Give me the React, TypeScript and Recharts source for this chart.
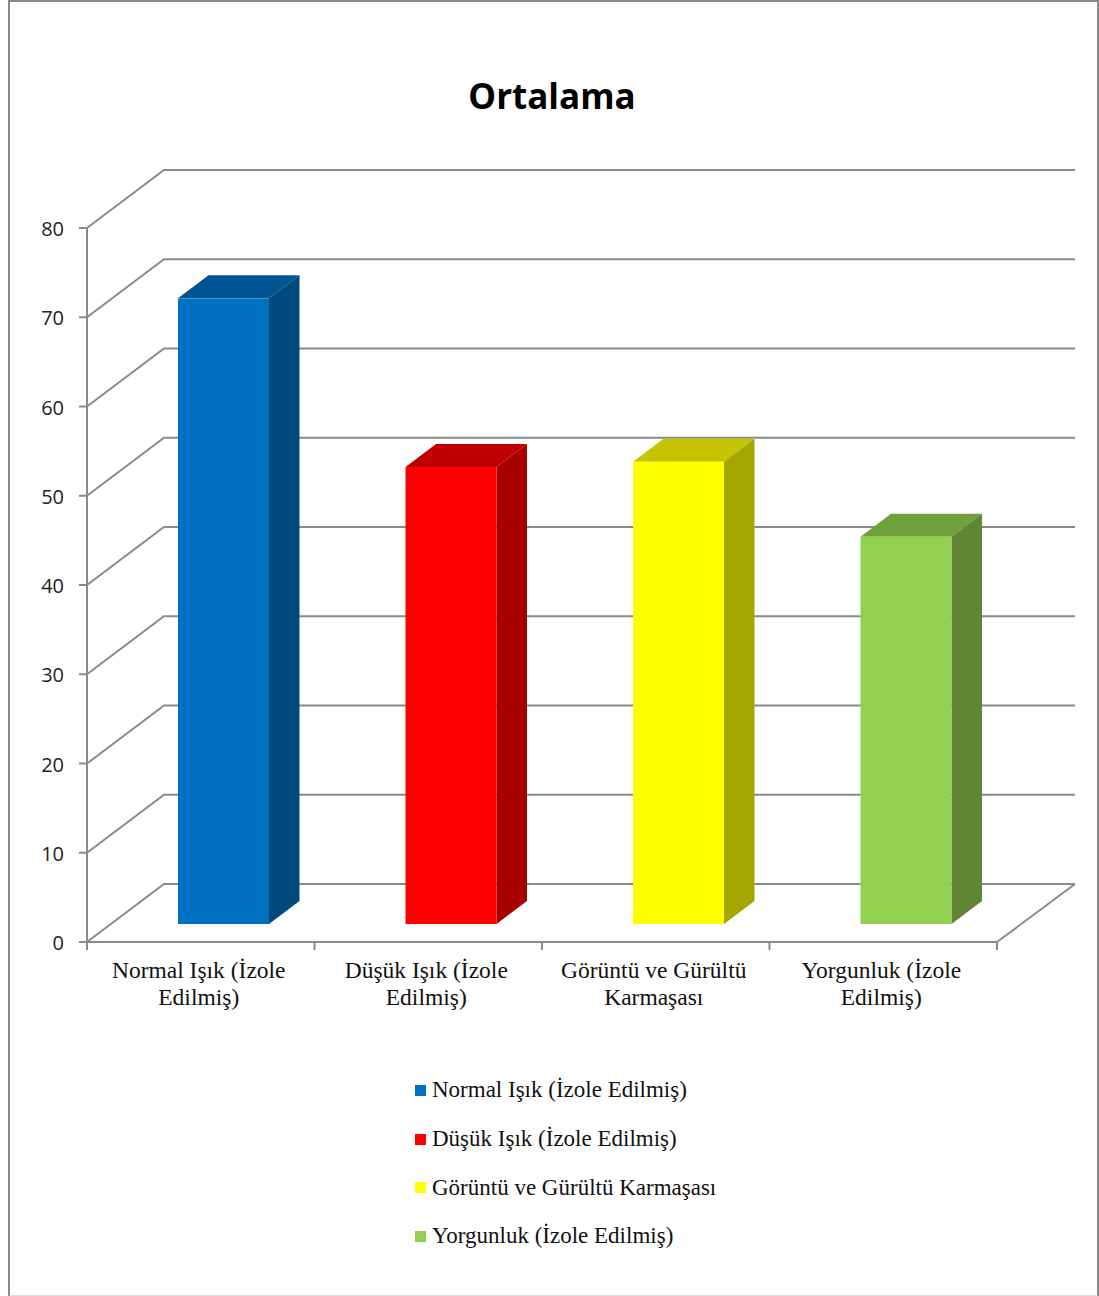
import { BarChart, Bar, XAxis, YAxis, CartesianGrid, Legend } from "recharts";

const categories = [
  "Normal Işık (İzole Edilmiş)",
  "Düşük Işık (İzole Edilmiş)",
  "Görüntü ve Gürültü Karmaşası",
  "Yorgunluk (İzole Edilmiş)",
];
const averages = [70.1, 51.2, 51.8, 43.4];
const yTicks = [0, 10, 20, 30, 40, 50, 60, 70, 80];
const tickLabelLines = [
  ["Normal Işık (İzole", "Edilmiş)"],
  ["Düşük Işık (İzole", "Edilmiş)"],
  ["Görüntü ve Gürültü", "Karmaşası"],
  ["Yorgunluk (İzole", "Edilmiş)"],
];

const frontColors = ["#0070c0", "#ff0000", "#ffff00", "#92d050"];
const topColors = ["#005494", "#c00000", "#c4c400", "#6fa03d"];
const sideColors = ["#00497d", "#a60000", "#a6a600", "#5f8535"];

const rows = categories.map((name, i) => ({ name, value: averages[i] }));

const WIDTH = 1099;
const HEIGHT = 1296;
const LINE = "#8a8a8a";
const SERIF = '"Liberation Serif", serif';
const SANS = '"Open Sans", sans-serif';

// plot box of the front plane
const PLOT_LEFT = 87;
const PLOT_RIGHT = 997;
const PLOT_TOP = 228;
const PLOT_BOTTOM = 942;
const BAND = (PLOT_RIGHT - PLOT_LEFT) / categories.length;

// pseudo-3D offsets: wall depth, and how far the bars sit inside the box
const WALL_DX = 77;
const WALL_DY = 58;
const BAR_SHIFT_X = 23;
const BAR_SHIFT_Y = 18;
const BAR_DX = 30.5;
const BAR_DY = 23;

// ── Gridline: side wall diagonal + back wall line, floor gets closed at the front ──
function WallLine(props: any) {
  const { x1, x2, y1, index } = props;
  const backY = y1 - WALL_DY;
  const isFloor = Math.abs(y1 - PLOT_BOTTOM) < 0.5;
  return (
    <g key={`wall-${index}`} fill="none" stroke={LINE} strokeWidth={2}>
      <polyline points={`${x1},${y1} ${x1 + WALL_DX},${backY} ${x2 + WALL_DX + 1},${backY}`} />
      {isFloor && <line x1={x2 + WALL_DX + 1} y1={backY} x2={x2} y2={y1} />}
    </g>
  );
}

// ── Box-shaped bar ────────────────────────────────────────────────────────────
function BoxBar(props: any) {
  const { x, y, width, height, index } = props;
  const left = x + BAR_SHIFT_X;
  const right = left + width;
  const top = y - BAR_SHIFT_Y;
  const bottom = top + height;
  return (
    <g>
      <polygon
        points={`${left},${top} ${left + BAR_DX},${top - BAR_DY} ${right + BAR_DX},${top - BAR_DY} ${right},${top}`}
        fill={topColors[index]}
      />
      <polygon
        points={`${right},${top} ${right + BAR_DX},${top - BAR_DY} ${right + BAR_DX},${bottom - BAR_DY} ${right},${bottom}`}
        fill={sideColors[index]}
      />
      <rect x={left} y={top} width={width} height={height} fill={frontColors[index]} />
    </g>
  );
}

// ── Category tick: marks sit on the band edges, label wraps on two lines ──────
function CategoryTick(props: any) {
  const { x, index } = props;
  const lines = tickLabelLines[index];
  const edge = x - BAND / 2;
  return (
    <g>
      <line x1={edge} y1={PLOT_BOTTOM} x2={edge} y2={PLOT_BOTTOM + 8} stroke={LINE} strokeWidth={2} />
      {index === categories.length - 1 && (
        <line x1={edge + BAND} y1={PLOT_BOTTOM} x2={edge + BAND} y2={PLOT_BOTTOM + 8} stroke={LINE} strokeWidth={2} />
      )}
      <text textAnchor="middle" fontFamily={SERIF} fontSize={23.5} fill="#111">
        {lines.map((line, i) => (
          <tspan key={line} x={x - 2} y={PLOT_BOTTOM + 36 + i * 27}>
            {line}
          </tspan>
        ))}
      </text>
    </g>
  );
}

function CategoryLegend() {
  return (
    <div>
      {categories.map((name, i) => (
        <div key={name} style={{ display: "flex", alignItems: "center", height: 48.7 }}>
          <span
            style={{
              display: "inline-block",
              width: 11,
              height: 11,
              marginRight: 6,
              backgroundColor: frontColors[i],
              flexShrink: 0,
            }}
          />
          <span style={{ fontFamily: SERIF, fontSize: 23, color: "#111", whiteSpace: "nowrap" }}>{name}</span>
        </div>
      ))}
    </div>
  );
}

export default function App() {
  return (
    <div style={{ position: "absolute", left: 0, top: 0, width: WIDTH, height: HEIGHT, background: "#fff", overflow: "hidden" }}>
      {/* outer chart frame */}
      <div
        style={{
          position: "absolute",
          left: 8,
          top: 0,
          width: 1087,
          height: 1293,
          borderStyle: "solid",
          borderColor: LINE,
          borderBottomColor: "#dddddd",
          borderWidth: 2,
        }}
      />
      <div
        style={{
          position: "absolute",
          left: 0,
          width: 1104,
          top: 71,
          textAlign: "center",
          fontFamily: SANS,
          fontWeight: 700,
          fontSize: 35,
          lineHeight: "50px",
          color: "#000",
        }}
      >
        Ortalama
      </div>
      <div style={{ position: "absolute", left: 0, top: 0 }}>
        <BarChart
          width={WIDTH}
          height={HEIGHT}
          data={rows}
          barSize={91}
          margin={{
            left: PLOT_LEFT - 40,
            right: WIDTH - PLOT_RIGHT,
            top: PLOT_TOP,
            bottom: HEIGHT - PLOT_BOTTOM - 60,
          }}
        >
          <CartesianGrid vertical={false} horizontal={WallLine} />
          <XAxis
            dataKey="name"
            height={60}
            interval={0}
            tickLine={false}
            axisLine={{ stroke: LINE, strokeWidth: 2 }}
            tick={CategoryTick}
          />
          <YAxis
            width={40}
            domain={[0, 80]}
            ticks={yTicks}
            tickSize={8}
            tickMargin={15}
            axisLine={{ stroke: LINE, strokeWidth: 2 }}
            tickLine={{ stroke: LINE, strokeWidth: 2 }}
            tick={{ fontFamily: SANS, fontSize: 20, fill: "#222", dy: 1 }}
          />
          <Bar dataKey="value" isAnimationActive={false} shape={BoxBar} />
          <Legend
            layout="vertical"
            align="center"
            verticalAlign="middle"
            content={CategoryLegend}
            wrapperStyle={{ left: 415, top: 1066, width: 320 }}
          />
        </BarChart>
      </div>
    </div>
  );
}
